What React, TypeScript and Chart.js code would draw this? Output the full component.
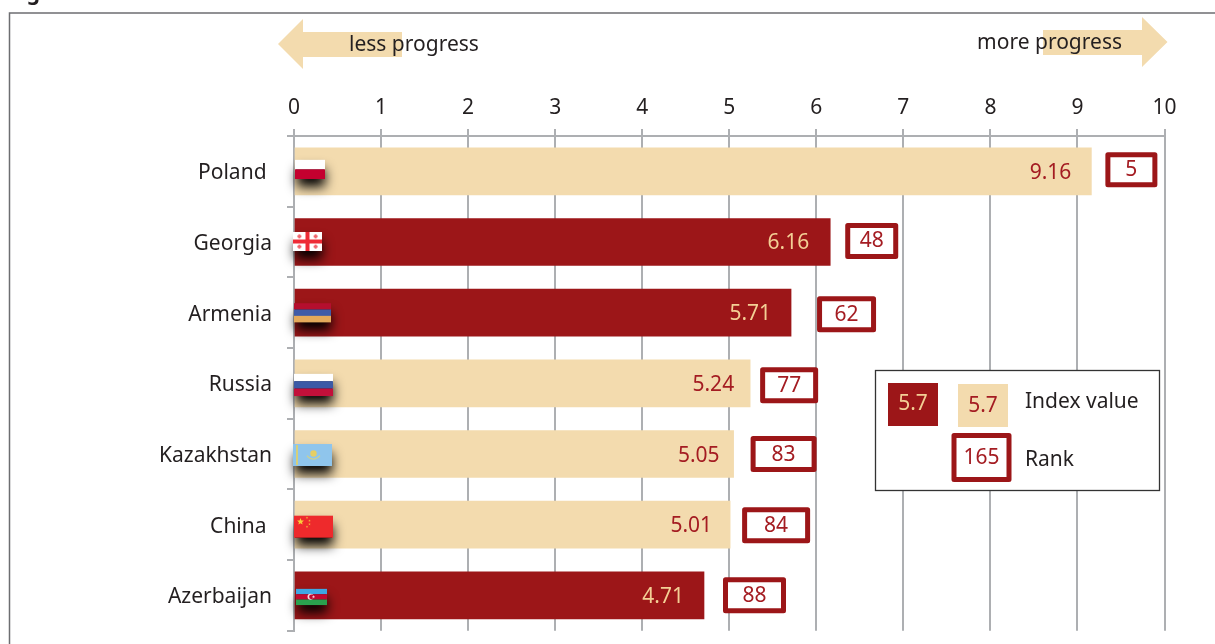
import React, { useEffect, useRef } from "react";
import { Chart, registerables } from "chart.js";

Chart.register(...registerables);

const categories = ["Poland", "Georgia", "Armenia", "Russia", "Kazakhstan", "China", "Azerbaijan"];
const indexValues = [9.16, 6.16, 5.71, 5.24, 5.05, 5.01, 4.71];
const ranks = [5, 48, 62, 77, 83, 84, 88];
const darkCategories = ["Georgia", "Armenia", "Azerbaijan"];
const xTicks = [0, 1, 2, 3, 4, 5, 6, 7, 8, 9, 10];
const arrowLabels = ["less progress", "more progress"];
const legendLabels = ["Index value", "Rank"];
const legendSample = ["5.7", "165"];

const DARK = "#9c1618";
const BEIGE = "#f3dbae";
const INK = "#231f20";
const GRID = "#adafb2";
const RED_TEXT = "#a41c22";
const PALE_TEXT = "#f3cf95";
const FONT = '"Noto Sans"';

// layout of the hand-drawn decorations (offsets from the scale positions)
const rankLayout = [
  { gap: 16, w: 47, h: 30, dy: -1.5 },
  { gap: 17, w: 48, h: 31, dy: -1 },
  { gap: 28, w: 54, h: 31, dy: 1.5 },
  { gap: 12, w: 53, h: 31, dy: 2 },
  { gap: 19, w: 61, h: 31, dy: 0 },
  { gap: 14, w: 63, h: 31, dy: 0.5 },
  { gap: 21, w: 58, h: 31, dy: 0 },
];
const labelPad = [" ", "", "", "", "", " ", ""];
const valueInset = [20, 21, 20, 16, 14, 18, 20];
const flagLayout = [
  { dx: 1, dy: -11.5, w: 30, h: 19 },
  { dx: -1, dy: -10, w: 29, h: 19 },
  { dx: 0, dy: -9.5, w: 37, h: 19 },
  { dx: 0, dy: -9.5, w: 39, h: 22 },
  { dx: -1, dy: -10, w: 39, h: 22 },
  { dx: 0, dy: -9, w: 39, h: 22 },
  { dx: 2, dy: -6.5, w: 31, h: 16 },
];

function stripes(ctx: CanvasRenderingContext2D, x: number, y: number, w: number, h: number, cols: string[]) {
  const s = h / cols.length;
  cols.forEach((c, i) => {
    ctx.fillStyle = c;
    ctx.fillRect(x, y + i * s, w, s + 0.2);
  });
}

function star(ctx: CanvasRenderingContext2D, cx: number, cy: number, r: number, color: string) {
  ctx.fillStyle = color;
  ctx.beginPath();
  for (let i = 0; i < 10; i++) {
    const a = -Math.PI / 2 + (i * Math.PI) / 5;
    const rr = i % 2 ? r * 0.45 : r;
    ctx.lineTo(cx + rr * Math.cos(a), cy + rr * Math.sin(a));
  }
  ctx.closePath();
  ctx.fill();
}

function drawFlag(ctx: CanvasRenderingContext2D, name: string, x: number, y: number, w: number, h: number) {
  ctx.save();
  ctx.shadowColor = "rgba(0,0,0,1)";
  ctx.shadowBlur = 12;
  ctx.shadowOffsetY = 8;
  ctx.shadowOffsetX = 1;
  ctx.fillStyle = "#000";
  ctx.fillRect(x + 1, y + 1, w - 2, h - 1);
  ctx.restore();
  if (name === "Poland") stripes(ctx, x, y, w, h, ["#ffffff", "#c4002f"]);
  if (name === "Armenia") stripes(ctx, x, y, w, h, ["#b50f2e", "#3f5ba8", "#e4a95b"]);
  if (name === "Russia") stripes(ctx, x, y, w, h, ["#ffffff", "#3b5aa6", "#c2103a"]);
  if (name === "Azerbaijan") {
    stripes(ctx, x, y, w, h, ["#3fa6e3", "#c1092f", "#2aa14e"]);
    ctx.fillStyle = "#f6d6dc";
    ctx.beginPath();
    ctx.arc(x + w / 2 - 1, y + h / 2, 3, 0, Math.PI * 2);
    ctx.fill();
    ctx.fillStyle = "#c1092f";
    ctx.beginPath();
    ctx.arc(x + w / 2, y + h / 2, 2.4, 0, Math.PI * 2);
    ctx.fill();
    star(ctx, x + w / 2 + 2, y + h / 2, 1.6, "#f6d6dc");
  }
  if (name === "Georgia") {
    ctx.fillStyle = "#ffffff";
    ctx.fillRect(x, y, w, h);
    ctx.fillStyle = "#ee2b36";
    ctx.fillRect(x + w / 2 - 2, y, 4, h);
    ctx.fillRect(x, y + h / 2 - 2, w, 4);
    ctx.fillStyle = "#f0656d";
    [
      [0.22, 0.23],
      [0.78, 0.23],
      [0.22, 0.77],
      [0.78, 0.77],
    ].forEach(([a, b]) => {
      ctx.fillRect(x + a * w - 2, y + b * h - 1, 4, 2);
      ctx.fillRect(x + a * w - 1, y + b * h - 2, 2, 4);
    });
  }
  if (name === "Kazakhstan") {
    ctx.fillStyle = "#8fc5ec";
    ctx.fillRect(x, y, w, h);
    ctx.fillStyle = "#d6cf7a";
    ctx.fillRect(x + 3, y + 1, 2, h - 2);
    ctx.fillStyle = "#e6cf63";
    ctx.beginPath();
    ctx.arc(x + 20.5, y + 9.5, 3.2, 0, Math.PI * 2);
    ctx.fill();
    ctx.strokeStyle = "#cfd28a";
    ctx.lineWidth = 1.2;
    ctx.beginPath();
    ctx.arc(x + 20.5, y + 7, 8, Math.PI * 0.2, Math.PI * 0.8);
    ctx.stroke();
  }
  if (name === "China") {
    ctx.fillStyle = "#ee2a2c";
    ctx.fillRect(x, y, w, h);
    star(ctx, x + 6.5, y + 6, 3.6, "#f8d03a");
    [
      [13, 2],
      [15.5, 5],
      [15.5, 8.5],
      [13, 11],
    ].forEach(([a, b]) => star(ctx, x + a, y + b, 1.3, "#f3b03a"));
  }
}

function rankBox(ctx: CanvasRenderingContext2D, x: number, y: number, w: number, h: number, text: string) {
  const lw = 5;
  ctx.save();
  ctx.fillStyle = "#ffffff";
  ctx.strokeStyle = DARK;
  ctx.lineWidth = lw;
  ctx.lineJoin = "round";
  ctx.beginPath();
  ctx.rect(x + lw / 2, y + lw / 2, w - lw, h - lw);
  ctx.fill();
  ctx.stroke();
  ctx.fillStyle = RED_TEXT;
  ctx.font = `21px ${FONT}`;
  ctx.textAlign = "center";
  ctx.textBaseline = "middle";
  ctx.fillText(text, x + w / 2, y + h / 2 + 0.5);
  ctx.restore();
}

const decorations = {
  id: "decorations",
  afterDatasetsDraw(chart: any) {
    const { ctx, scales } = chart;
    const xs = scales.x;
    const ys = scales.y;
    ctx.save();

    // figure frame and clipped heading
    ctx.strokeStyle = "#6d6e71";
    ctx.lineWidth = 1.5;
    ctx.beginPath();
    ctx.moveTo(9.5, 644);
    ctx.lineTo(9.5, 13);
    ctx.lineTo(1215, 13);
    ctx.stroke();
    ctx.fillStyle = INK;
    ctx.font = `bold 21px ${FONT}`;
    ctx.textAlign = "left";
    ctx.textBaseline = "alphabetic";
    ctx.fillText("Fig", 9, 0);

    // direction arrows
    ctx.fillStyle = BEIGE;
    ctx.beginPath();
    [[278, 44], [303, 19], [303, 32], [402, 32], [402, 57], [303, 57], [303, 69]].forEach(([a, b]) => ctx.lineTo(a, b));
    ctx.closePath();
    ctx.fill();
    ctx.beginPath();
    [[1167.5, 42], [1142, 17], [1142, 30], [1043, 30], [1043, 55], [1142, 55], [1142, 67]].forEach(([a, b]) => ctx.lineTo(a, b));
    ctx.closePath();
    ctx.fill();
    ctx.fillStyle = INK;
    ctx.font = `21px ${FONT}`;
    ctx.textBaseline = "alphabetic";
    ctx.textAlign = "left";
    ctx.fillText(arrowLabels[0], 349, 51);
    ctx.textAlign = "right";
    ctx.fillText(arrowLabels[1], 1122, 49);

    // flags, value labels, rank boxes
    categories.forEach((name, i) => {
      const cy = ys.getPixelForValue(i);
      const end = xs.getPixelForValue(indexValues[i]);
      const zero = xs.getPixelForValue(0);
      const f = flagLayout[i];
      drawFlag(ctx, name, zero + f.dx, cy + f.dy, f.w, f.h);
      ctx.font = `21px ${FONT}`;
      ctx.textAlign = "right";
      ctx.textBaseline = "middle";
      ctx.fillStyle = darkCategories.includes(name) ? PALE_TEXT : RED_TEXT;
      ctx.fillText(indexValues[i].toFixed(2), end - valueInset[i], cy + 1.5);
      const r = rankLayout[i];
      rankBox(ctx, end + r.gap - 2, cy + r.dy - r.h / 2 - 2.5, r.w + 5, r.h + 5, String(ranks[i]));
    });

    // legend
    ctx.fillStyle = "#ffffff";
    ctx.strokeStyle = "#333333";
    ctx.lineWidth = 1.3;
    ctx.fillRect(875.5, 370.5, 284, 120);
    ctx.strokeRect(875.5, 370.5, 284, 120);
    ctx.fillStyle = DARK;
    ctx.fillRect(888, 383, 50, 43);
    ctx.fillStyle = BEIGE;
    ctx.fillRect(958, 384, 50, 43);
    ctx.font = `21px ${FONT}`;
    ctx.textAlign = "center";
    ctx.textBaseline = "middle";
    ctx.fillStyle = PALE_TEXT;
    ctx.fillText(legendSample[0], 913, 404);
    ctx.fillStyle = RED_TEXT;
    ctx.fillText(legendSample[0], 983, 406);
    rankBox(ctx, 951.5, 433, 60, 49, legendSample[1]);
    ctx.fillStyle = INK;
    ctx.textAlign = "left";
    ctx.fillText(legendLabels[0], 1025, 402);
    ctx.fillText(legendLabels[1], 1025, 460);
    ctx.restore();
  },
};

export default function App() {
  const ref = useRef<HTMLCanvasElement | null>(null);
  useEffect(() => {
    document.body.style.margin = "0";
    if (!ref.current) return;
    const chart = new Chart(ref.current, {
      type: "bar",
      data: {
        labels: categories,
        datasets: [
          {
            data: indexValues,
            backgroundColor: categories.map((c) => (darkCategories.includes(c) ? DARK : BEIGE)),
            barThickness: 47,
            borderWidth: 0,
          },
        ],
      },
      options: {
        indexAxis: "y",
        animation: false,
        responsive: false,
        layout: { autoPadding: false, padding: { left: 0, top: 0, right: 50.5, bottom: 13.3 } },
        plugins: { legend: { display: false }, tooltip: { enabled: false } },
        scales: {
          x: {
            position: "top",
            min: 0,
            max: 10,
            afterFit: (s: any) => {
              s.height = 136;
              s.paddingTop = 0;
              s.paddingBottom = 0;
            },
            afterBuildTicks: (s: any) => {
              s.ticks = xTicks.map((value) => ({ value }));
            },
            grid: { color: GRID, lineWidth: 2, tickLength: 7, tickColor: GRID },
            border: { color: GRID, width: 2 },
            ticks: { color: INK, font: { family: "Noto Sans", size: 21 }, padding: 8, maxRotation: 0 },
          },
          y: {
            type: "category",
            afterFit: (s: any) => {
              s.width = 294;
              s.paddingTop = 0;
              s.paddingBottom = 0;
            },
            grid: { offset: true, drawOnChartArea: false, color: GRID, lineWidth: 2, tickLength: 7, tickColor: GRID },
            border: { color: GRID, width: 2 },
            ticks: {
              color: INK,
              font: { family: "Noto Sans", size: 21 },
              padding: 15,
              labelOffset: 2,
              callback: (_v: any, i: number) => categories[i] + labelPad[i],
            },
          },
        },
      },
      plugins: [decorations],
    } as any);
    return () => chart.destroy();
  }, []);
  return <canvas ref={ref} width={1215} height={644} style={{ display: "block" }} />;
}
